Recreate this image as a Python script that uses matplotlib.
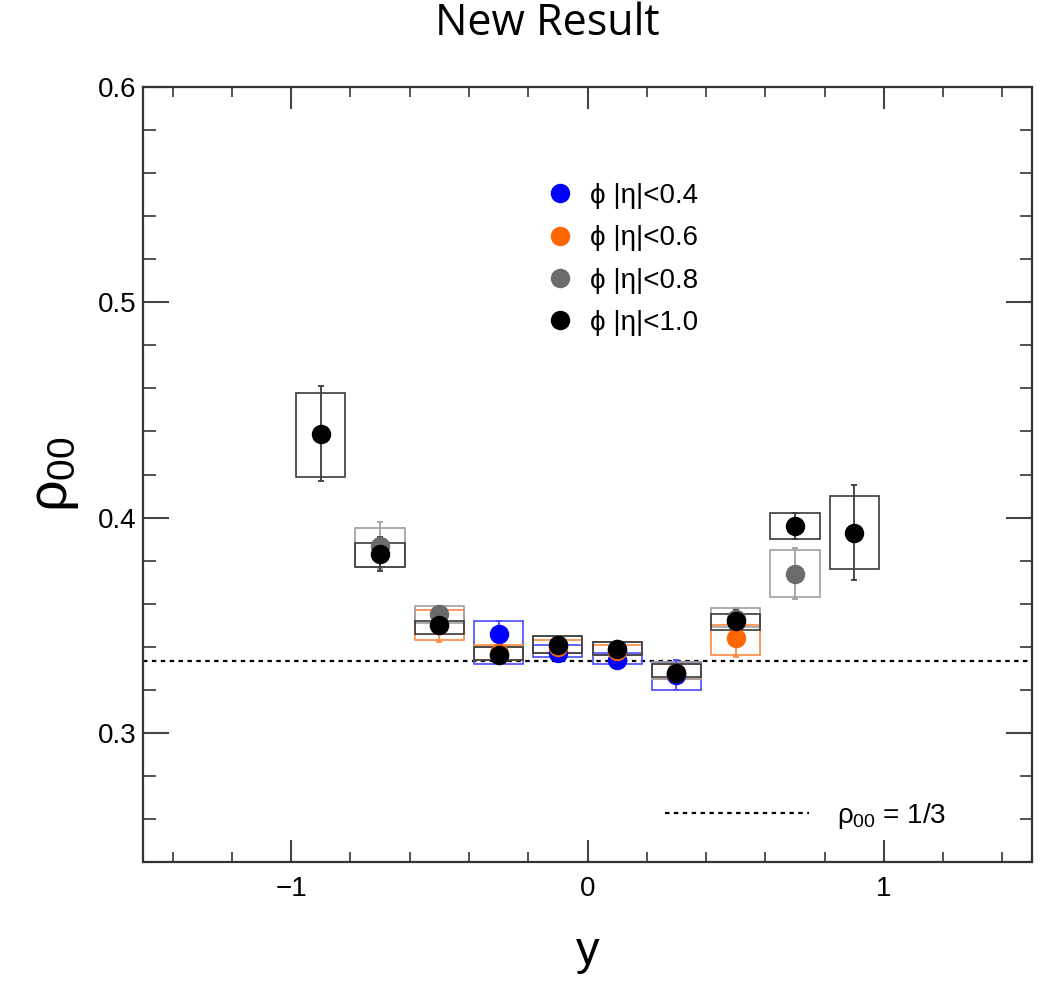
import matplotlib
matplotlib.use("Agg")
import matplotlib.pyplot as plt
from matplotlib.patches import Rectangle
from matplotlib.lines import Line2D
from matplotlib.ticker import MultipleLocator

plt.rcParams['font.family'] = ['Liberation Sans', 'DejaVu Sans']
plt.rcParams['mathtext.fontset'] = 'custom'
plt.rcParams['mathtext.rm'] = 'Liberation Sans'
plt.rcParams['mathtext.it'] = 'Liberation Sans'

# rapidity bins
y_all = [-0.9, -0.7, -0.5, -0.3, -0.1, 0.1, 0.3, 0.5, 0.7, 0.9]

# |eta|<0.4
y_04 = [-0.3, -0.1, 0.1, 0.3]
rho_04 = [0.346, 0.337, 0.334, 0.327]
stat_04 = [0.006, 0.003, 0.003, 0.007]
sys_lo_04 = [0.332, 0.335, 0.332, 0.320]
sys_hi_04 = [0.352, 0.341, 0.337, 0.333]

# |eta|<0.6
y_06 = [-0.5, -0.3, -0.1, 0.1, 0.3, 0.5]
rho_06 = [0.350, 0.337, 0.340, 0.338, 0.328, 0.344]
stat_06 = [0.008, 0.004, 0.003, 0.003, 0.004, 0.009]
sys_lo_06 = [0.343, 0.334, 0.337, 0.336, 0.325, 0.336]
sys_hi_06 = [0.357, 0.341, 0.343, 0.341, 0.332, 0.350]

# |eta|<0.8
y_08 = [-0.7, -0.5, -0.3, -0.1, 0.1, 0.3, 0.5, 0.7]
rho_08 = [0.387, 0.355, 0.336, 0.341, 0.339, 0.328, 0.353, 0.374]
stat_08 = [0.011, 0.004, 0.004, 0.003, 0.003, 0.004, 0.005, 0.012]
sys_lo_08 = [0.377, 0.351, 0.334, 0.337, 0.336, 0.325, 0.349, 0.363]
sys_hi_08 = [0.395, 0.359, 0.340, 0.345, 0.342, 0.333, 0.358, 0.385]

# |eta|<1.0
y_10 = y_all
rho_10 = [0.439, 0.383, 0.350, 0.336, 0.341, 0.339, 0.328, 0.352, 0.396, 0.393]
stat_10 = [0.022, 0.008, 0.004, 0.003, 0.003, 0.003, 0.004, 0.005, 0.006, 0.022]
sys_lo_10 = [0.419, 0.377, 0.346, 0.334, 0.337, 0.336, 0.326, 0.348, 0.390, 0.376]
sys_hi_10 = [0.458, 0.388, 0.352, 0.340, 0.345, 0.342, 0.332, 0.355, 0.402, 0.410]

series = [
    ('ϕ |η|<0.4', y_04, rho_04, stat_04, sys_lo_04, sys_hi_04, '#0000ff', '#4a4aff'),
    ('ϕ |η|<0.6', y_06, rho_06, stat_06, sys_lo_06, sys_hi_06, '#ff6600', '#ff8a40'),
    ('ϕ |η|<0.8', y_08, rho_08, stat_08, sys_lo_08, sys_hi_08, '#6b6b6b', '#a0a0a0'),
    ('ϕ |η|<1.0', y_10, rho_10, stat_10, sys_lo_10, sys_hi_10, '#000000', '#3a3a3a'),
]

box_half = 0.083

fig = plt.figure(figsize=(10.47, 9.82), dpi=100)
ax = fig.add_axes([0.1366, 0.1222, 0.8491, 0.7892])

handles = []
for i, (lab, xs, vals, st, lo, hi, col, bcol) in enumerate(series):
    for x, l, h in zip(xs, lo, hi):
        ax.add_patch(Rectangle((x - box_half, l), 2 * box_half, h - l,
                               fill=False, edgecolor=bcol, linewidth=1.2,
                               zorder=2 + i))
    ax.errorbar(xs, vals, yerr=st, fmt='none', ecolor=bcol, elinewidth=1.3,
                capsize=2.5, capthick=1.3, zorder=6 + i)
    ax.plot(xs, vals, 'o', color=col, markersize=13, zorder=10 + i)
    handles.append(Line2D([], [], marker='o', linestyle='none', color=col,
                          markersize=13, label=lab))

ax.axhline(1 / 3, color='black', linestyle=(0, (2, 2)), linewidth=1.6, zorder=1)

leg = ax.legend(handles=handles, loc='upper left', bbox_to_anchor=(0.4376, 0.894),
                frameon=False, borderpad=0, labelspacing=0.59, handlelength=1.0,
                handletextpad=0.58,
                prop={'family': ['Liberation Sans', 'DejaVu Sans'], 'size': 20})
ax.add_artist(leg)

ref = Line2D([], [], color='black', linestyle=(0, (2, 2)), linewidth=1.6,
             label=r'$\rho_{00}$ = 1/3')
ax.legend(handles=[ref], loc='lower left', bbox_to_anchor=(0.571, 0.0226),
          frameon=False, borderpad=0, fontsize=20, handlelength=5.2,
          handletextpad=1.0)

ax.set_xlim(-1.5, 1.5)
ax.set_ylim(0.24, 0.6)
ax.xaxis.set_major_locator(MultipleLocator(1))
ax.xaxis.set_minor_locator(MultipleLocator(0.2))
ax.yaxis.set_major_locator(MultipleLocator(0.1))
ax.yaxis.set_minor_locator(MultipleLocator(0.02))
ax.set_xticks([-1, 0, 1])
ax.set_xticklabels(['\u22121', '0', '1'])
ax.set_yticks([0.3, 0.4, 0.5, 0.6])
ax.set_yticklabels(['0.3', '0.4', '0.5', '0.6'])

ax.tick_params(axis='both', which='both', direction='in', top=True, right=True,
               colors='#444444', labelcolor='black', labelsize=20)
ax.tick_params(axis='x', which='major', length=16, width=1.5, pad=10)
ax.tick_params(axis='x', which='minor', length=7, width=1.3)
ax.tick_params(axis='y', which='major', length=19, width=1.5, pad=5)
ax.tick_params(axis='y', which='minor', length=9, width=1.3)
for sp in ax.spines.values():
    sp.set_linewidth(1.6)
    sp.set_color('#333333')

ax.set_ylabel(r'$\rho_{00}$', fontsize=40, labelpad=12)
ax.set_xlabel('y', fontsize=34, labelpad=20)

fig.text(0.5225, 0.976, 'New Result', ha='center', va='center', fontsize=31,
         family=['Open Sans', 'DejaVu Sans'])

fig.savefig('out.png', dpi=100)
